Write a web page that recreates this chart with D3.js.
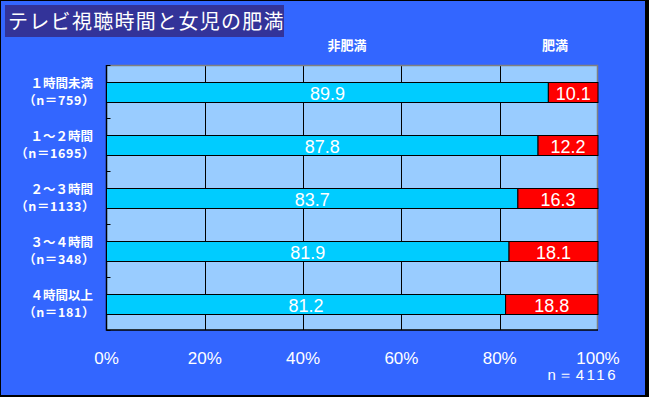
<!DOCTYPE html>
<html>
<head>
<meta charset="utf-8">
<script src="https://cdn.jsdelivr.net/npm/d3@7"></script>
<style>
  body { margin: 0; background: #000; }
  svg { display: block; }
  text { font-family: "Liberation Sans", Arial, sans-serif; fill: #fff; }
  .jp { font-family: "Noto Sans CJK JP", sans-serif; }
</style>
</head>
<body>
<svg id="chart"></svg>
<script>
// data
var categories = ["１時間未満", "１～２時間", "２～３時間", "３～４時間", "４時間以上"];
var counts = ["（n＝759）", "（n＝1695）", "（n＝1133）", "（n＝348）", "（n＝181）"];
var nonObese = [89.9, 87.8, 83.7, 81.9, 81.2];
var obese = [10.1, 12.2, 16.3, 18.1, 18.8];
var seriesNames = ["非肥満", "肥満"];
var ticks = [0, 20, 40, 60, 80, 100];

var width = 649, height = 397;
var margin = { left: 106.5, right: 598, top: 65, bottom: 330 };

var svg = d3.select("#chart")
  .attr("width", width)
  .attr("height", height);

// frame
svg.append("rect").attr("x", 0).attr("y", 0).attr("width", width).attr("height", height).attr("fill", "#000");
svg.append("rect").attr("x", 1).attr("y", 1).attr("width", 644).attr("height", 394).attr("fill", "#3366FF");

// title
svg.append("rect").attr("x", 5).attr("y", 5).attr("width", 279).attr("height", 32).attr("fill", "#333399");
svg.append("text").attr("class", "jp")
  .attr("x", 8).attr("y", 29)
  .style("font-size", "20px")
  .style("letter-spacing", "1.3px")
  .text("テレビ視聴時間と女児の肥満");

var x = d3.scaleLinear().domain([0, 100]).range([margin.left, margin.right]);
var y = d3.scaleBand().domain(categories).range([margin.top, margin.bottom]).paddingInner(0).paddingOuter(0);
var barH = 20;

// plot area
svg.append("rect")
  .attr("x", margin.left).attr("y", margin.top)
  .attr("width", margin.right - margin.left).attr("height", margin.bottom - margin.top)
  .attr("fill", "#99CCFF");

// vertical gridlines
svg.selectAll(".grid")
  .data(ticks.slice(1, -1))
  .join("line")
  .attr("x1", d => Math.round(x(d)) + 0.5).attr("x2", d => Math.round(x(d)) + 0.5)
  .attr("y1", margin.top).attr("y2", margin.bottom)
  .attr("stroke", "#000");

// plot border: gray top/right, black left/bottom
svg.append("path")
  .attr("d", `M${margin.left},${margin.top + 0.5}H${margin.right - 0.5}V${margin.bottom}`)
  .attr("fill", "none").attr("stroke", "#808080").attr("stroke-width", 1.5);
svg.append("path")
  .attr("d", `M${margin.left},${margin.top}V${margin.bottom}H${margin.right}`)
  .attr("fill", "none").attr("stroke", "#000").attr("stroke-width", 1.5);

// category ticks (inward)
var bounds = categories.map(c => y(c)).concat([margin.bottom]);
svg.selectAll(".ytick")
  .data(bounds)
  .join("line")
  .attr("x1", margin.left).attr("x2", margin.left + 4)
  .attr("y1", d => Math.round(d) + 0.5).attr("y2", d => Math.round(d) + 0.5)
  .attr("stroke", "#000");

// stacked bars
var rows = categories.map((c, i) => ({ cat: c, a: nonObese[i], b: obese[i] }));
var g = svg.selectAll(".row").data(rows).join("g");
var barY = d => Math.round(y(d.cat) + y.bandwidth() / 2 - barH / 2) + 0.5;

g.append("rect")
  .attr("x", x(0)).attr("y", barY)
  .attr("width", d => x(d.a) - x(0)).attr("height", barH)
  .attr("fill", "#00CCFF").attr("stroke", "#000");
g.append("rect")
  .attr("x", d => x(d.a)).attr("y", barY)
  .attr("width", d => x(d.a + d.b) - x(d.a)).attr("height", barH)
  .attr("fill", "#FF0000").attr("stroke", "#000");

g.append("text")
  .attr("x", d => (x(0) + x(d.a)) / 2)
  .attr("y", d => barY(d) + 17)
  .attr("text-anchor", "middle")
  .style("font-size", "18px")
  .text(d => d.a.toFixed(1));
g.append("text")
  .attr("x", d => (x(d.a) + x(d.a + d.b)) / 2)
  .attr("y", d => barY(d) + 17)
  .attr("text-anchor", "middle")
  .style("font-size", "18px")
  .text(d => d.b.toFixed(1));

// category labels, two lines each
svg.selectAll(".cat").data(categories).join("text")
  .attr("class", "jp")
  .attr("x", 93).attr("y", d => y(d) + y.bandwidth() / 2 - 4)
  .attr("text-anchor", "end")
  .style("font-size", "12.5px").style("font-weight", "bold")
  .text(d => d);
svg.selectAll(".cnt").data(counts).join("text")
  .attr("class", "jp")
  .attr("x", 95).attr("y", (d, i) => y(categories[i]) + y.bandwidth() / 2 + 13)
  .attr("text-anchor", "end")
  .style("font-size", "12.5px").style("font-weight", "bold")
  .style("letter-spacing", "0.6px")
  .text(d => d);

// series headers
svg.append("text").attr("class", "jp")
  .attr("x", 347).attr("y", 50)
  .attr("text-anchor", "middle")
  .style("font-size", "13px").style("font-weight", "bold")
  .text(seriesNames[0]);
svg.append("text").attr("class", "jp")
  .attr("x", 555).attr("y", 50)
  .attr("text-anchor", "middle")
  .style("font-size", "13px").style("font-weight", "bold")
  .text(seriesNames[1]);

// x tick labels
svg.selectAll(".xl").data(ticks).join("text")
  .attr("x", d => x(d)).attr("y", 364)
  .attr("text-anchor", "middle")
  .style("font-size", "17px")
  .text(d => d + "%");

svg.append("text")
  .attr("x", 618).attr("y", 380)
  .attr("text-anchor", "end")
  .style("font-size", "15px")
  .style("letter-spacing", "2.5px")
  .text("n＝4116");
</script>
</body>
</html>
